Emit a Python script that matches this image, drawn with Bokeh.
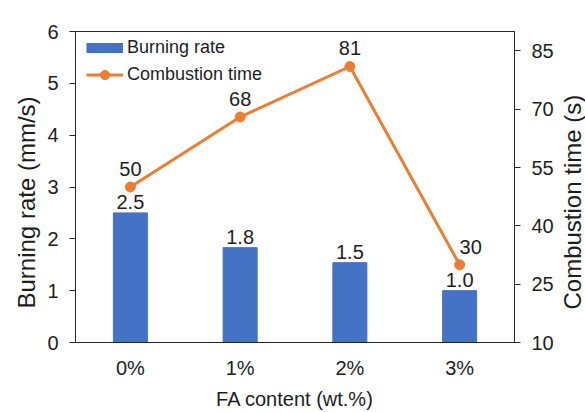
from bokeh.plotting import figure
from bokeh.layouts import row
from bokeh.models import (Range1d, LinearAxis, FixedTicker, ColumnDataSource,
                          Legend, LegendItem, Title)
from bokeh.core.properties import value
from bokeh.embed import file_html
from bokeh.resources import INLINE

# ---- data ----
categories = ["0%", "1%", "2%", "3%"]
burning_rate = [2.5, 1.83, 1.54, 1.0]          # mm/s (left axis, bars)
combustion_time = [50, 68, 81, 30]             # s (right axis, line)
left_ticks = [0, 1, 2, 3, 4, 5, 6]
right_ticks = [10, 25, 40, 55, 70, 85]
x_title = "FA content (wt.%)"
left_title = "Burning rate (mm/s)"
right_title = "Combustion time (s)"
bar_series = "Burning rate"
line_series = "Combustion time"

# ---- style ----
FONT = "Liberation Sans"
BLUE = "#4472C4"
ORANGE = "#ED7D31"
INK = "#1e1e1e"
AXIS = "#262626"
time_label_dx = [0, 0, 0, 11]   # nudge of the last line label, as in the original

src = ColumnDataSource(dict(
    cat=categories,
    rate=burning_rate,
    time=combustion_time,
    rate_lbl=[f"{v:.1f}" for v in burning_rate],
    time_lbl=[f"{v:d}" for v in combustion_time],
    dx=time_label_dx,
))

p = figure(x_range=categories, y_range=Range1d(0, 6), title=None,
           width=557, height=412, output_backend="svg", toolbar_location=None,
           min_border_left=75, min_border_right=43, min_border_top=31, min_border_bottom=67)
p.extra_y_ranges = {"time": Range1d(10, 90)}

p.grid.visible = False
p.outline_line_color = AXIS
p.outline_line_width = 1
p.background_fill_color = "white"
p.border_fill_color = "white"

right_axis = LinearAxis(y_range_name="time", ticker=FixedTicker(ticks=right_ticks))
p.add_layout(right_axis, "right")

left_axis = p.yaxis[0]
left_axis.ticker = FixedTicker(ticks=left_ticks)

for ax in [left_axis, right_axis]:
    ax.major_tick_out = 6
    ax.major_tick_in = 0
    ax.minor_tick_line_color = None
    ax.major_label_standoff = 11
    ax.axis_line_color = AXIS
    ax.major_tick_line_color = AXIS
    ax.major_label_text_font = FONT
    ax.major_label_text_font_size = "20px"
    ax.major_label_text_color = INK

xa = p.xaxis[0]
xa.major_tick_line_color = None
xa.major_tick_out = 0
xa.major_tick_in = 0
xa.minor_tick_line_color = None
xa.axis_line_color = AXIS
xa.major_label_standoff = 14
xa.major_label_text_font = FONT
xa.major_label_text_font_size = "20px"
xa.major_label_text_color = INK
xa.axis_label = x_title
xa.axis_label_standoff = 6
xa.axis_label_text_font = FONT
xa.axis_label_text_font_size = "20px"
xa.axis_label_text_font_style = "normal"
xa.axis_label_text_color = INK

# left title: a side title reading bottom-to-top, shifted like the original
p.add_layout(Title(text=left_title, align="left", offset=34, text_font=FONT,
                   text_font_size="24px", text_font_style="normal", text_color=INK), "left")

# ---- marks ----
p.vbar(x="cat", top="rate", width=0.31, source=src, fill_color=BLUE, line_color=BLUE)
line_r = p.line(x="cat", y="time", y_range_name="time", line_width=3, line_color=ORANGE, source=src)
dots_r = p.scatter(x="cat", y="time", y_range_name="time", size=10, fill_color=ORANGE,
                   line_color=ORANGE, source=src)

p.text(x="cat", y="rate", text="rate_lbl", source=src, text_align="center",
       text_baseline="alphabetic", y_offset=-11, text_font=value(FONT),
       text_font_size="20px", text_color=INK)
p.text(x="cat", y="time", text="time_lbl", source=src, y_range_name="time",
       text_align="center", text_baseline="alphabetic", x_offset="dx", y_offset=-18,
       text_font=value(FONT), text_font_size="20px", text_color=INK)

# legend proxy for the bar swatch (a thick flat stroke, not drawn in the plot)
bar_proxy = p.line(x=[categories[0]], y=[float("nan")], line_width=10, line_color=BLUE)

legend = Legend(items=[LegendItem(label=bar_series, renderers=[bar_proxy]),
                       LegendItem(label=line_series, renderers=[line_r, dots_r])],
                location=(11, 256), margin=0, padding=4, spacing=4,
                glyph_width=37, glyph_height=23, label_standoff=4,
                label_text_font=FONT, label_text_font_size="18px", label_text_color=INK,
                border_line_color=None, background_fill_alpha=0)
p.add_layout(legend)

# ---- right title strip: holds the secondary-axis title, reading bottom-to-top ----
p2 = figure(width=28, height=412, title=None, output_backend="svg", toolbar_location=None,
            x_axis_location=None, y_axis_location=None,
            min_border_left=0, min_border_right=0, min_border_top=31, min_border_bottom=67)
p2.grid.visible = False
p2.outline_line_color = None
p2.background_fill_color = "white"
p2.border_fill_color = "white"
p2.add_layout(Title(text=right_title, align="left", offset=33, standoff=0, text_font=FONT,
                    text_font_size="24px", text_font_style="normal", text_color=INK), "left")

layout = row(p, p2)
open("out.html", "w").write(file_html(layout, INLINE))
